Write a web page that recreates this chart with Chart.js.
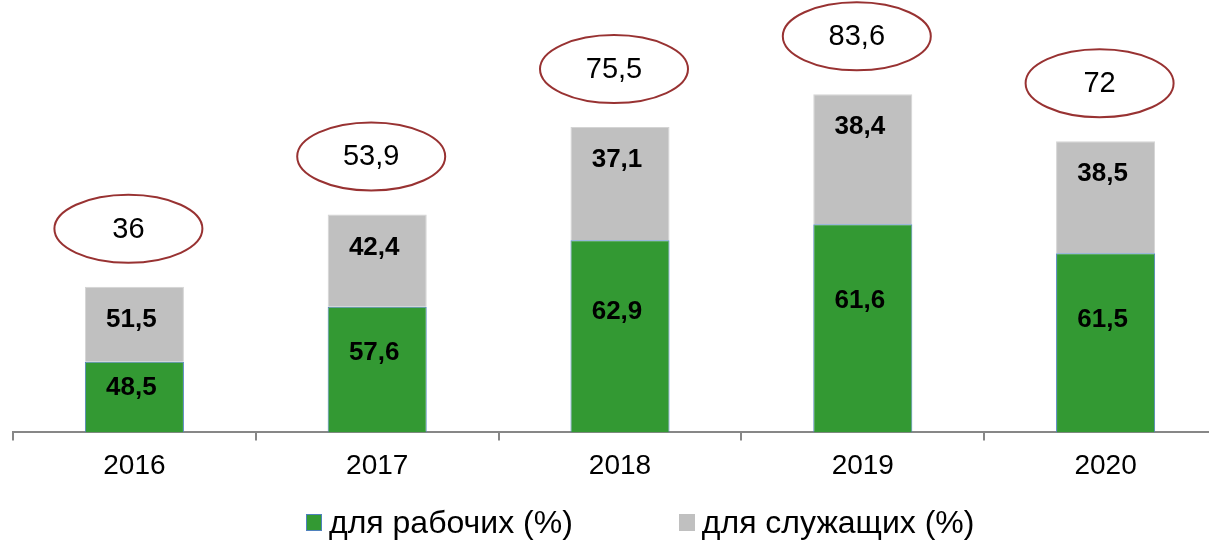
<!DOCTYPE html>
<html>
<head>
<meta charset="utf-8">
<script src="https://cdn.jsdelivr.net/npm/chart.js@4.4.1/dist/chart.umd.min.js"></script>
<style>
  body { margin: 0; background: #fff; overflow: hidden; font-family: "Liberation Sans", Arial, sans-serif; }
  #wrap { position: relative; width: 1227px; height: 540px; }
  #legend { position: absolute; left: 306px; top: 504px; display: flex; align-items: center; font-size: 32px; color: #000; white-space: nowrap; }
  #legend .item { display: flex; align-items: center; }
  #legend .box { width: 16px; height: 17px; margin-right: 7px; box-sizing: border-box; }
</style>
</head>
<body>
<div id="wrap">
  <canvas id="chart"></canvas>
  <div id="legend"></div>
</div>
<script>
// --- data ---
const years = ['2016', '2017', '2018', '2019', '2020'];
const totals = [36, 53.9, 75.5, 83.6, 72];
const workersPct = [48.5, 57.6, 62.9, 61.6, 61.5];
const employeesPct = [51.5, 42.4, 37.1, 38.4, 38.5];
const seriesNames = ['для рабочих (%)', 'для служащих (%)'];

const GREEN = '#339933';
const GRAY = '#c0c0c0';
const AXIS = '#878787';
const FONT = '"Liberation Sans", Arial, sans-serif';

const fmt = v => String(v).replace('.', ',');

// segment heights: each year's total split by the shares
const workersPart = totals.map((t, i) => t * workersPct[i] / 100);
const employeesPart = totals.map((t, i) => t * employeesPct[i] / 100);

// --- labels inside bars + ellipses with totals ---
const labelsPlugin = {
  id: 'labels',
  afterDatasetsDraw(chart) {
    const ctx = chart.ctx;
    ctx.save();
    ctx.textAlign = 'center';
    ctx.textBaseline = 'middle';
    ctx.fillStyle = '#000';
    ctx.font = 'bold 26px ' + FONT;

    chart.getDatasetMeta(0).data.forEach((bar, i) => {
      const y = bar.y + (bar.base - bar.y) * 0.37;
      ctx.fillText(fmt(workersPct[i]), bar.x - 3, y);
    });
    chart.getDatasetMeta(1).data.forEach((bar, i) => {
      ctx.fillText(fmt(employeesPct[i]), bar.x - 3, bar.y + 33);
    });

    // ellipses with total values
    chart.getDatasetMeta(1).data.forEach((bar, i) => {
      const cx = bar.x - 6, cy = bar.y - 58;
      ctx.beginPath();
      ctx.ellipse(cx, cy, 74, 34, 0, 0, Math.PI * 2);
      ctx.fillStyle = '#fff';
      ctx.fill();
      ctx.lineWidth = 2;
      ctx.strokeStyle = '#983232';
      ctx.stroke();
      ctx.fillStyle = '#000';
      ctx.font = '29px ' + FONT;
      ctx.fillText(fmt(totals[i]), cx, cy + 1);
    });
    ctx.restore();
  }
};

const chart = new Chart(document.getElementById('chart'), {
  type: 'bar',
  data: {
    labels: years,
    datasets: [{
      label: seriesNames[0],
      data: workersPart,
      backgroundColor: GREEN,
      borderColor: '#4f81bd',
      borderWidth: 1,
      barPercentage: 0.408,
      categoryPercentage: 1
    }, {
      label: seriesNames[1],
      data: employeesPart,
      backgroundColor: GRAY,
      borderColor: '#d4d4d4',
      borderWidth: 1,
      barPercentage: 0.408,
      categoryPercentage: 1
    }]
  },
  options: {
    responsive: true,
    maintainAspectRatio: false,
    animation: false,
    devicePixelRatio: 1,
    layout: { padding: { left: 13, right: 0, top: 28, bottom: 48 } },
    plugins: {
      legend: { display: false },
      tooltip: { enabled: false }
    },
    scales: {
      x: {
        stacked: true,
        grid: { display: true, drawOnChartArea: false, drawTicks: true, tickLength: 8, color: AXIS, lineWidth: 2, offset: true },
        border: { display: true, color: AXIS, width: 2 },
        ticks: { color: '#000', font: { family: FONT, size: 28 }, padding: 9 }
      },
      y: { stacked: true, display: false, min: 0, max: 100 }
    }
  },
  plugins: [labelsPlugin]
});

// --- legend ---
const legend = document.getElementById('legend');
const legendColors = [[GREEN, '#4f81bd'], [GRAY, GRAY]];
seriesNames.forEach((name, i) => {
  const item = document.createElement('div');
  item.className = 'item';
  if (i > 0) item.style.marginLeft = '106px';
  const box = document.createElement('span');
  box.className = 'box';
  box.style.background = legendColors[i][0];
  box.style.border = '1px solid ' + legendColors[i][1];
  const txt = document.createElement('span');
  txt.textContent = name;
  item.appendChild(box);
  item.appendChild(txt);
  legend.appendChild(item);
});
</script>
</body>
</html>
